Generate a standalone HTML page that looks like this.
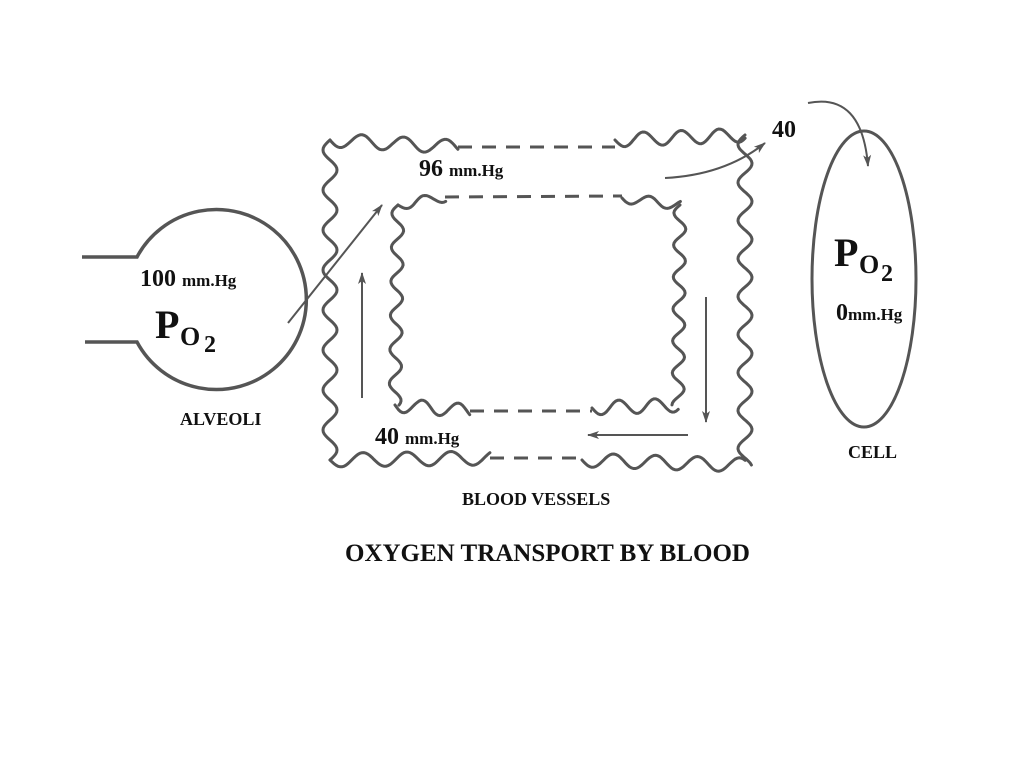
<!DOCTYPE html>
<html><head><meta charset="utf-8"><style>
html,body{margin:0;padding:0;background:#fff;width:1024px;height:767px;overflow:hidden}
svg{display:block}
text{font-family:"Liberation Serif",serif;font-weight:bold;fill:#111}
</style></head><body>
<svg id="s" width="1024" height="767" viewBox="0 0 1024 767" xmlns="http://www.w3.org/2000/svg">
<defs><marker id="ah" markerWidth="12" markerHeight="10" refX="11" refY="5" orient="auto" markerUnits="userSpaceOnUse"><path d="M0,1 L12,5 L0,9 L3,5 Z" fill="#555"/></marker></defs>
<g id="waves" fill="none" stroke="#555" stroke-width="3" stroke-linecap="round"></g>
<g fill="none" stroke="#555" stroke-width="3" stroke-dasharray="14,10">
<path d="M458,147 L615,147"/>
<path d="M445,197 L622,196"/>
<path d="M470,411 L592,411"/>
<path d="M490,458 L582,458"/>
</g>
<g fill="none" stroke="#555" stroke-width="3">
<path d="M82,257 L137,257 A90,90 0 1 1 137,342 L85,342" stroke-width="3.5"/>
<ellipse cx="864" cy="279" rx="52" ry="148"/>
</g>
<g fill="none" stroke="#555" stroke-width="2">
<path d="M288,323 L382,205" marker-end="url(#ah)"/>
<path d="M362,398 L362,273" marker-end="url(#ah)"/>
<path d="M706,297 L706,422" marker-end="url(#ah)"/>
<path d="M688,435 L588,435" marker-end="url(#ah)"/>
<path d="M665,178 Q725,175 765,143" marker-end="url(#ah)"/>
<path d="M808,103 Q862,92 868,166" marker-end="url(#ah)"/>
</g>
<text x="140" y="286" font-size="24">100 <tspan font-size="17">mm.Hg</tspan></text>
<text x="155" y="338" font-size="40">P</text><text x="180" y="345" font-size="26">O</text><text x="204" y="352" font-size="24">2</text>
<text x="180" y="425" font-size="18">ALVEOLI</text>
<text x="419" y="176" font-size="24">96 <tspan font-size="17">mm.Hg</tspan></text>
<text x="375" y="444" font-size="24">40 <tspan font-size="17">mm.Hg</tspan></text>
<text x="462" y="505" font-size="18">BLOOD VESSELS</text>
<text x="345" y="561" font-size="25">OXYGEN TRANSPORT BY BLOOD</text>
<text x="772" y="137" font-size="24">40</text>
<text x="834" y="266" font-size="40">P</text><text x="859" y="273" font-size="26">O</text><text x="881" y="281" font-size="24">2</text>
<text x="836" y="320" font-size="24">0<tspan font-size="17">mm.Hg</tspan></text>
<text x="848" y="458" font-size="18">CELL</text>
</svg>
<script>
function wave(x1,y1,x2,y2,amp,per){
  var dx=x2-x1,dy=y2-y1,L=Math.hypot(dx,dy),nx=-dy/L,ny=dx/L,d="";
  var n=Math.max(2,Math.round(L/2));
  for(var i=0;i<=n;i++){var t=i/n,o=amp*Math.sin(t*L/per*2*Math.PI);
    var x=x1+dx*t+nx*o,y=y1+dy*t+ny*o;d+=(i?"L":"M")+x.toFixed(1)+","+y.toFixed(1);}
  return d;
}
var g=document.getElementById("waves"),segs=[
 [330,140,458,147,7,42],[615,140,745,135,7,38],
 [330,140,330,460,7,40],[745,135,745,465,7,38],
 [330,460,490,458,7,44],[582,460,745,465,7,42],
 [398,205,445,197,5,36],[622,198,680,205,5,36],
 [398,205,395,405,6,34],[680,205,678,405,6,32],
 [395,405,470,411,7,36],[592,408,678,405,7,36]];
segs.forEach(function(s){var p=document.createElementNS("http://www.w3.org/2000/svg","path");p.setAttribute("d",wave.apply(null,s));g.appendChild(p);});
</script>
</body></html>
